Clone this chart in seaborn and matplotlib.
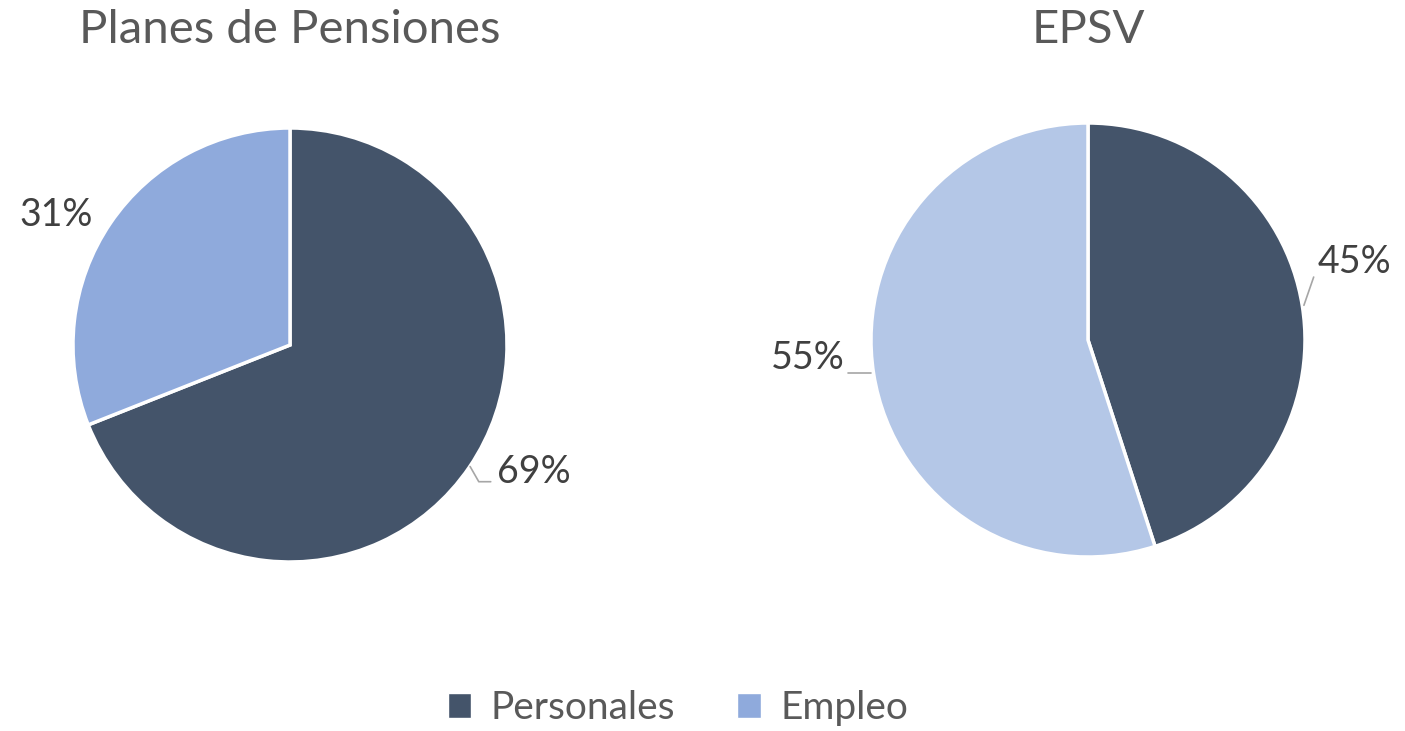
import matplotlib
matplotlib.use("Agg")
import matplotlib.pyplot as plt
from matplotlib.patches import Patch
import seaborn as sns

# ==============================
# Datos
# ==============================
categorias = ["Personales", "Empleo"]
titulos = ["Planes de Pensiones", "EPSV"]
planes_valores = [69, 31]
epsv_valores = [45, 55]

COLOR_OSCURO = "#44546A"
COLOR_CLARO = "#8FAADC"
COLOR_CLARO_EPSV = "#B4C7E7"

sns.set_theme(style="white")
plt.rcParams["font.family"] = ["Lato", "DejaVu Sans"]

fig = plt.figure(figsize=(14.05, 7.31), dpi=100)

# posiciones de los ejes (centro y radio en píxeles)
def eje_pie(cx, cy, r):
    W, H = 1405, 731
    return fig.add_axes([(cx - r) / W, (H - cy - r) / H, 2 * r / W, 2 * r / H])

ax1 = eje_pie(290, 345, 217)
ax2 = eje_pie(1088, 340, 217)

wedge_kw = dict(edgecolor="white", linewidth=2.5)

ax1.pie(planes_valores, colors=[COLOR_OSCURO, COLOR_CLARO], startangle=90,
        counterclock=False, radius=1, wedgeprops=wedge_kw)
ax2.pie(epsv_valores, colors=[COLOR_OSCURO, COLOR_CLARO_EPSV], startangle=90,
        counterclock=False, radius=1, wedgeprops=wedge_kw)

for ax in (ax1, ax2):
    ax.set_xlim(-1, 1)
    ax.set_ylim(-1, 1)
    ax.set_aspect("equal")
    ax.axis("off")

label_kw = dict(fontsize=27, color="#404040", va="center")
line_kw = dict(color="#A6A6A6", linewidth=1.2, clip_on=False)

# Planes de Pensiones
ax1.text(0.955, -0.585, f"{planes_valores[0]}%", ha="left", **label_kw)
ax1.plot([0.83, 0.87, 0.925], [-0.56, -0.63, -0.63], **line_kw)
ax1.text(-0.91, 0.60, f"{planes_valores[1]}%", ha="right", **label_kw)

# EPSV
ax2.text(1.06, 0.36, f"{epsv_valores[0]}%", ha="left", **label_kw)
ax2.plot([0.995, 1.04], [0.16, 0.29], **line_kw)
ax2.text(-1.12, -0.085, f"{epsv_valores[1]}%", ha="right", **label_kw)
ax2.plot([-1.105, -1.0], [-0.152, -0.152], **line_kw)

# títulos
fig.text(290 / 1405, 1 - 30 / 731, titulos[0], ha="center", va="center",
         fontsize=34, color="#595959")
fig.text(1088 / 1405, 1 - 30 / 731, titulos[1], ha="center", va="center",
         fontsize=34, color="#595959")

# leyenda
handles = [Patch(facecolor=COLOR_OSCURO, label=categorias[0]),
           Patch(facecolor=COLOR_CLARO, label=categorias[1])]
leg = fig.legend(handles=handles, loc="center", bbox_to_anchor=(678 / 1405, 1 - 708 / 731),
                 ncol=2, frameon=False, fontsize=28, handlelength=0.6, handleheight=0.6,
                 handletextpad=0.5, columnspacing=1.6)
for t in leg.get_texts():
    t.set_color("#595959")

fig.savefig("out.png", dpi=100)
